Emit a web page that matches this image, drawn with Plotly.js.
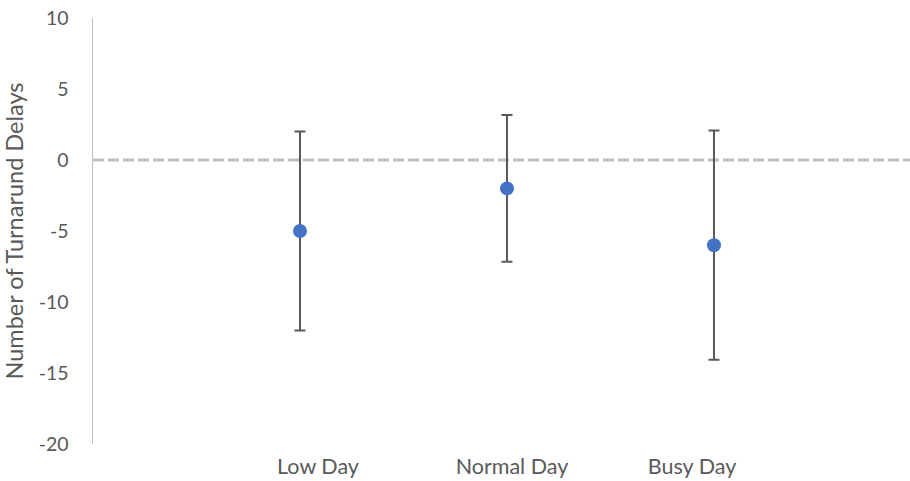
<!DOCTYPE html>
<html>
<head>
<meta charset="utf-8">
<script src="https://cdn.plot.ly/plotly-3.0.1.min.js"></script>
<style>html,body{margin:0;padding:0;background:#fff;}#chart{width:910px;height:481px;}</style>
</head>
<body>
<div id="chart"></div>
<script>
// Data
var categories = ["Low Day", "Normal Day", "Busy Day"];
var meanDelays = [-5, -2, -6];
var errorHalfWidth = [7, 5.17, 8.07];
var yTickValues = [-20, -15, -10, -5, 0, 5, 10];

// Layout positioning (not data)
var pointX = categories.map(function (c, i) { return i + 1; });
var labelX = [1.087, 2.024, 2.894];

var font = "Lato, 'Open Sans', 'Liberation Sans', sans-serif";
var textColor = "#595959";

var trace = {
  type: "scatter",
  mode: "markers",
  x: pointX,
  y: meanDelays,
  marker: { color: "#4472C4", size: 14 },
  error_y: {
    type: "data",
    array: errorHalfWidth,
    visible: true,
    color: "#595959",
    thickness: 2,
    width: 5.5
  },
  hoverinfo: "skip",
  showlegend: false
};

var layout = {
  width: 910,
  height: 481,
  margin: { l: 93, r: 0, t: 18, b: 37 },
  paper_bgcolor: "#ffffff",
  plot_bgcolor: "#ffffff",
  font: { family: font, color: textColor },
  xaxis: {
    range: [0, 3.947],
    tickmode: "array",
    tickvals: labelX,
    ticktext: categories,
    showgrid: false,
    zeroline: false,
    showline: false,
    ticks: "",
    ticklabelstandoff: 7,
    tickfont: { family: font, size: 21.5, color: textColor },
    fixedrange: true
  },
  yaxis: {
    range: [-20, 10],
    tickmode: "array",
    tickvals: yTickValues,
    ticktext: yTickValues.map(String),
    showgrid: false,
    zeroline: false,
    showline: true,
    linecolor: "#bfbfbf",
    linewidth: 1.5,
    ticks: "",
    ticklabelstandoff: 19,
    tickfont: { family: font, size: 19.5, color: textColor },
    title: { text: "Number of Turnarund Delays", font: { family: font, size: 23.5, color: textColor }, standoff: 8 },
    fixedrange: true
  },
  shapes: [{
    type: "line",
    xref: "paper",
    yref: "y",
    x0: 0, x1: 1,
    y0: 0, y1: 0,
    line: { color: "#bfbfbf", width: 3, dash: "11px,4px" },
    layer: "below"
  }]
};

Plotly.newPlot("chart", [trace], layout, { staticPlot: true, displayModeBar: false });
</script>
</body>
</html>
